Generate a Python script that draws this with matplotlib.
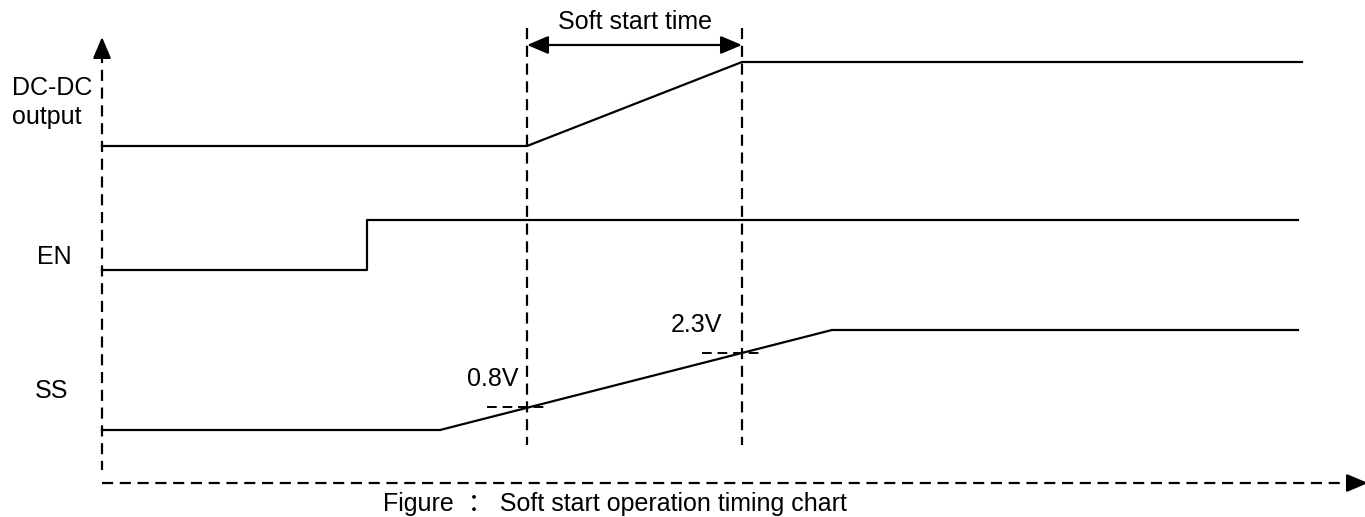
import matplotlib
matplotlib.use('Agg')
import matplotlib.pyplot as plt

plt.rcParams['font.family'] = ['Liberation Sans', 'DejaVu Sans']

# waveform corner points (pixel-like coordinates of the timing chart)
dcdc_x = [102, 527, 742, 1302]
dcdc_y = [146, 146, 62, 62]
en_x = [102, 367, 367, 1298]
en_y = [270, 270, 220, 220]
ss_x = [102, 440, 832, 1298]
ss_y = [430, 430, 330, 330]

t_start = 527
t_end = 742
level_names = ['0.8V', '2.3V']
level_x = [527, 742]
level_y = [407, 353]
label_dx = [9, 20]

fig = plt.figure(figsize=(13.65, 5.17), dpi=100)
ax = fig.add_axes([0, 0, 1, 1])
ax.set_xlim(0, 1365)
ax.set_ylim(517, 0)
ax.axis('off')

lw = 1.6
dash = (0, (5, 3))
head = '-|>,head_width=0.55,head_length=1.3'

# axes
ax.plot([102, 102], [52, 470], color='black', lw=lw, linestyle=dash)
ax.annotate('', xy=(102, 37), xytext=(102, 58), annotation_clip=False,
            arrowprops=dict(arrowstyle=head, color='black', lw=lw, shrinkA=0, shrinkB=0))
ax.plot([102, 1350], [483, 483], color='black', lw=lw, linestyle=dash)
ax.annotate('', xy=(1368, 483), xytext=(1350, 483), annotation_clip=False,
            arrowprops=dict(arrowstyle=head, color='black', lw=lw, shrinkA=0, shrinkB=0))

# signals
ax.plot(dcdc_x, dcdc_y, color='black', lw=lw)
ax.plot(en_x, en_y, color='black', lw=lw)
ax.plot(ss_x, ss_y, color='black', lw=lw)

# soft start markers
for x in [t_start, t_end]:
    ax.plot([x, x], [28, 445], color='black', lw=lw, linestyle=dash)
ax.annotate('', xy=(t_start, 45), xytext=(t_end, 45),
            arrowprops=dict(arrowstyle='<|-|>,head_width=0.55,head_length=1.3', color='black', lw=lw,
                            shrinkA=0, shrinkB=0))
ax.text((t_start + t_end) / 2, 22, 'Soft start time', ha='center', va='center', fontsize=18)

# threshold levels
for lab, x, y, dx in zip(level_names, level_x, level_y, label_dx):
    ax.plot([x - 40, x + 21], [y, y], color='black', lw=1.4, linestyle=dash)
    ax.text(x - dx, y - 28, lab, ha='right', va='center', fontsize=18)

# labels
ax.text(12, 88, 'DC-DC', ha='left', va='center', fontsize=18)
ax.text(12, 117, 'output', ha='left', va='center', fontsize=18)
ax.text(37, 257, 'EN', ha='left', va='center', fontsize=18)
ax.text(35, 391, 'SS', ha='left', va='center', fontsize=18)

ax.text(383, 516, 'Figure  ： Soft start operation timing chart', ha='left', va='bottom', fontsize=18,
        family=['Liberation Sans', 'Noto Sans CJK SC'])

fig.savefig('out.png', dpi=100)
